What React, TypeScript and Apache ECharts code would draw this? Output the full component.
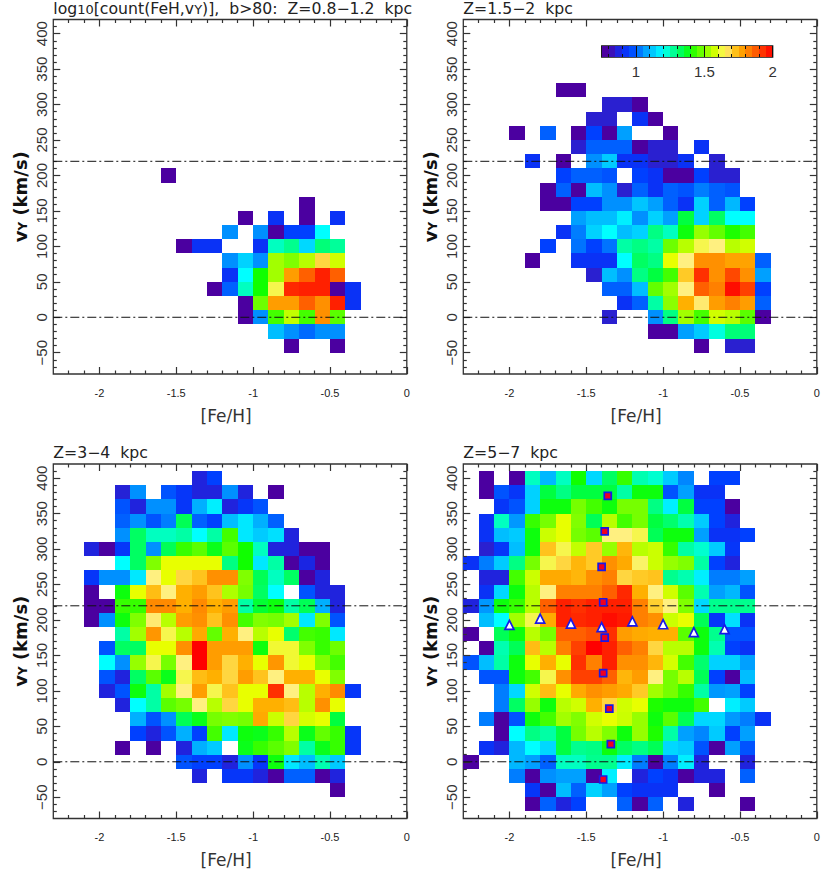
import React, { useEffect, useRef } from "react";
import * as echarts from "echarts";

type Row = [number, number, number[]];

// each row: [vY bin centre (km/s), index of first [Fe/H] bin, log10(count) per bin, 0 = empty]
const panel1Rows: Row[] = [
  [200, 7, [0.78]],
  [160, 16, [0.78]],
  [140, 12, [0.78, 0, 0.92, 0, 0.78, 0, 0.92]],
  [120, 11, [1.05, 0, 1.05, 0.78, 0.95, 0.95, 1.2]],
  [100, 8, [0.78, 0.92, 0.92, 0, 0, 0.92, 1.24, 1.28, 1.15, 1.3, 1.27]],
  [80, 11, [1.05, 1.14, 1.05, 1.53, 1.5, 1.55, 1.69, 1.575]],
  [60, 11, [0.92, 1.2, 1.4, 1.53, 1.78, 1.87, 1.95, 1.87]],
  [40, 10, [0.78, 1.0, 1.24, 1.4, 1.63, 1.94, 1.95, 1.95, 0.78, 0.92]],
  [20, 12, [0.78, 1.48, 1.78, 1.78, 1.87, 1.8, 1.95, 0.92]],
  [0, 12, [0.78, 1.05, 1.44, 1.56, 1.44, 1.8, 1.46]],
  [-20, 14, [1.11, 1.05, 1.01, 1.05, 1.05]],
  [-40, 15, [0.78, 0, 0, 0.78]],
];

const panel2Rows: Row[] = [
  [320, 6, [0.78, 0.78]],
  [300, 9, [0.85, 0.85, 0.78]],
  [280, 8, [0.85, 0.85, 0, 0.92, 0.78]],
  [260, 3, [0.78, 0, 1.0, 0, 0.78, 0.95, 0.78, 1.07, 0, 0, 0.78]],
  [240, 7, [0.85, 1.0, 1.0, 1.0, 0.78, 0.85, 0.85, 0, 0.92]],
  [220, 4, [0.92, 0, 0.78, 0, 1.05, 1.13, 0.92, 0.92, 0.85, 0.85, 0.92, 0, 0.85]],
  [200, 6, [0.95, 1.0, 1.0, 0.98, 0, 0.95, 0.92, 0.78, 0.78, 0.95, 0.85, 0.85]],
  [180, 5, [0.78, 1.0, 0.78, 1.11, 1.05, 0.85, 1.0, 0.92, 1.0, 0.98, 1.03, 1.0, 0.98]],
  [160, 5, [0.78, 0.78, 0.95, 0.95, 1.05, 1.05, 1.12, 1.07, 1.0, 0.92, 1.14, 1.0, 1.1, 0.95]],
  [140, 7, [1.07, 1.11, 1.11, 1.18, 1.05, 1.14, 1.07, 1.35, 1.14, 1.32, 1.2, 1.2]],
  [120, 6, [0.92, 1.03, 1.14, 1.2, 1.11, 1.14, 1.29, 1.24, 1.39, 1.52, 1.47, 1.41, 1.44]],
  [100, 5, [0.95, 0, 1.02, 0.95, 1.02, 1.26, 1.29, 1.26, 1.48, 1.55, 1.63, 1.65, 1.55, 1.575]],
  [80, 4, [0.78, 0, 0, 0.92, 0.92, 0.92, 1.2, 1.32, 1.29, 1.6, 1.65, 1.8, 1.8, 1.77, 1.77, 1.0]],
  [60, 8, [0.85, 1.11, 1.05, 1.29, 1.35, 1.44, 1.71, 1.93, 1.8, 1.9, 1.8, 1.07]],
  [40, 9, [1.0, 1.0, 1.11, 1.47, 1.53, 1.65, 1.87, 1.825, 1.98, 1.91, 0.95]],
  [20, 10, [0.92, 1.0, 1.26, 1.51, 1.75, 1.66, 1.78, 1.825, 1.78, 1.0]],
  [0, 9, [0.85, 0, 0, 1.05, 1.29, 1.53, 1.44, 1.575, 1.55, 1.46, 0.78]],
  [-20, 12, [0.78, 0.78, 1.07, 1.13, 1.22, 1.3, 1.3]],
  [-40, 15, [0.78, 0, 0.85, 0.85]],
];

const panel3Rows: Row[] = [
  [400, 9, [0.87, 0.95]],
  [380, 4, [0.86, 1.05, 0, 0.98, 0.93, 0.87, 0.87, 1.05, 0.87, 0, 0.78]],
  [360, 4, [0.98, 0.87, 1.05, 1.05, 0.93, 1.09, 1.18, 0.87, 0.93, 0.98]],
  [340, 4, [1.0, 1.05, 0.98, 1.03, 1.33, 1.0, 0.95, 1.11, 1.17, 1.09, 1.0]],
  [320, 4, [1.05, 1.32, 1.24, 1.24, 1.26, 1.2, 1.26, 1.44, 1.17, 1.13, 1.16, 0.87]],
  [300, 2, [0.87, 0.78, 0.93, 1.32, 1.05, 1.33, 1.43, 1.46, 1.38, 1.46, 1.4, 1.24, 0.87, 0.87, 0.78, 0.78]],
  [280, 4, [1.2, 1.32, 1.5, 1.6, 1.6, 1.6, 1.6, 1.29, 1.4, 1.17, 1.26, 0.78, 0.88, 0.78]],
  [260, 2, [0.93, 1.05, 1.05, 1.17, 1.65, 1.6, 1.69, 1.72, 1.8, 1.8, 1.5, 1.33, 1.24, 1.32, 0.78, 0.87]],
  [240, 2, [0.78, 0, 1.39, 1.6, 1.73, 1.65, 1.75, 1.78, 1.72, 1.54, 1.49, 1.32, 1.2, 0, 0.98, 0.87, 0.87]],
  [220, 2, [0.78, 0.78, 1.43, 1.43, 1.81, 1.81, 1.75, 1.81, 1.75, 1.78, 1.26, 1.36, 1.39, 1.26, 1.33, 1.09, 0.87]],
  [200, 2, [0.78, 1.05, 1.39, 1.5, 1.66, 1.55, 1.78, 1.8, 1.72, 1.8, 1.44, 1.5, 1.49, 1.53, 1.17, 1.5, 0.98]],
  [180, 4, [1.26, 1.53, 1.79, 1.63, 1.55, 1.76, 1.47, 1.75, 1.65, 1.55, 1.6, 1.31, 1.44, 1.43, 1.17]],
  [160, 3, [0.98, 1.32, 1.32, 1.6, 1.6, 1.8, 2.0, 1.78, 1.78, 1.78, 1.39, 1.62, 1.62, 1.5, 1.43, 1.48]],
  [140, 3, [1.2, 1.05, 1.52, 1.63, 1.49, 1.65, 2.0, 1.78, 1.69, 1.75, 1.6, 1.79, 1.62, 1.6, 1.5, 1.44]],
  [120, 3, [0.98, 0.87, 1.32, 1.46, 1.38, 1.63, 1.73, 1.75, 1.69, 1.78, 1.72, 1.65, 1.75, 1.75, 1.6, 1.5]],
  [100, 3, [0.87, 0.98, 1.39, 1.26, 1.53, 1.65, 1.78, 1.63, 1.72, 1.6, 1.6, 1.93, 1.65, 1.55, 1.75, 1.81, 0.93]],
  [80, 4, [0.87, 1.2, 1.26, 1.46, 1.49, 1.65, 1.55, 1.69, 1.6, 1.75, 1.75, 1.73, 1.55, 1.8, 1.6]],
  [60, 5, [1.09, 0.98, 1.05, 1.33, 1.38, 1.49, 1.5, 1.49, 1.76, 1.57, 1.69, 1.58, 1.6, 1.35]],
  [40, 5, [0.95, 0.87, 0.98, 1.09, 0.95, 1.44, 1.17, 1.39, 1.38, 1.43, 1.55, 1.38, 1.47, 1.43, 0.93]],
  [20, 4, [0.78, 0, 0.78, 0, 0.87, 1.09, 1.13, 0, 1.38, 1.43, 1.46, 1.5, 1.26, 1.38, 1.43, 0.93]],
  [0, 8, [0.98, 0.95, 0.95, 0.87, 1.05, 0.93, 1.39, 1.17, 1.11, 1.25, 1.13]],
  [-20, 9, [0.87, 0, 0.93, 0.93, 0.87, 0.78, 1.0, 1.0, 0.78, 0.87]],
  [-40, 18, [0.78]],
];

const panel4Rows: Row[] = [
  [400, 1, [0.78, 0, 0.78, 1.24, 1.1, 1.24, 1.4, 1.15, 1.32, 1.43, 1.25, 1.23, 1.13, 1.04, 0, 0.95, 0.95]],
  [380, 1, [0.78, 0.98, 0.93, 1.14, 1.35, 1.29, 1.35, 1.35, 1.35, 1.26, 1.39, 1.39, 0.98, 1.07, 0.92, 0.92]],
  [360, 2, [0.93, 0.98, 1.14, 1.39, 1.39, 1.49, 1.44, 1.39, 1.49, 1.49, 1.29, 1.18, 1.35, 0.95, 0.95, 0.78]],
  [340, 1, [0.92, 1.24, 1.06, 1.43, 1.49, 1.6, 1.5, 1.33, 1.55, 1.44, 1.49, 1.35, 1.31, 1.25, 1.13, 0.95, 0.87]],
  [320, 1, [0.92, 1.11, 1.13, 1.39, 1.57, 1.6, 1.49, 1.46, 1.65, 1.65, 1.63, 1.33, 1.39, 1.39, 1.07, 0.92, 0.92, 0.95]],
  [300, 1, [0.85, 0.93, 1.11, 1.39, 1.72, 1.63, 1.56, 1.71, 1.52, 1.74, 1.55, 1.57, 1.43, 1.26, 1.23, 1.13, 0.93]],
  [280, 0, [0.92, 1.03, 1.13, 1.29, 1.49, 1.63, 1.69, 1.74, 1.71, 1.8, 1.76, 1.64, 1.57, 1.52, 1.5, 1.26, 0.95, 0.87]],
  [260, 1, [0.87, 0.87, 1.44, 1.57, 1.76, 1.76, 1.74, 1.8, 1.825, 1.69, 1.71, 1.72, 1.28, 1.25, 1.18, 1.03, 1.03, 1.07]],
  [240, 1, [0.92, 1.15, 1.39, 1.55, 1.65, 1.825, 1.825, 1.825, 1.87, 1.94, 1.75, 1.65, 1.575, 1.46, 1.25, 1.07, 1.1, 0.98]],
  [220, 0, [0.87, 1.06, 1.39, 1.43, 1.55, 1.87, 1.95, 1.93, 1.95, 1.95, 1.95, 1.825, 1.7, 1.65, 1.5, 1.15, 1.28, 1.28, 1.28]],
  [200, 1, [1.11, 1.2, 1.53, 1.63, 1.76, 1.95, 1.94, 1.95, 1.98, 1.96, 1.825, 1.8, 1.57, 1.6, 1.33, 0.93, 1.16, 0.92]],
  [180, 0, [0.78, 0, 1.33, 1.39, 1.55, 1.49, 1.87, 1.87, 1.89, 1.93, 1.78, 1.76, 1.75, 1.75, 1.46, 1.39, 1.28, 0.98, 0.98]],
  [160, 1, [0.78, 1.25, 1.33, 1.73, 1.55, 1.825, 1.91, 2.0, 1.95, 1.87, 1.825, 1.69, 1.55, 1.55, 1.39, 1.25, 0.95, 0.92]],
  [140, 0, [0.98, 1.11, 1.26, 1.39, 1.6, 1.75, 1.6, 1.93, 1.825, 1.95, 1.8, 1.8, 1.74, 1.58, 1.44, 1.31, 1.14, 1.14, 1.07]],
  [120, 1, [0.98, 0.98, 1.39, 1.44, 1.63, 1.8, 1.91, 1.91, 1.87, 1.74, 1.78, 1.65, 1.49, 1.55, 1.33, 0.95, 0.78, 1.11]],
  [100, 2, [1.03, 1.15, 1.575, 1.73, 1.6, 1.76, 1.8, 1.78, 1.76, 1.71, 1.53, 1.49, 1.43, 1.26, 1.06, 1.07, 0.95]],
  [80, 2, [1.03, 1.32, 1.52, 1.39, 1.55, 1.575, 1.75, 1.69, 1.575, 1.6, 1.41, 1.39, 1.39, 1.44, 0, 1.18, 1.13]],
  [60, 1, [1.03, 0.78, 0.98, 1.39, 1.44, 1.53, 1.5, 1.575, 1.6, 1.57, 1.52, 1.39, 1.46, 1.33, 1.15, 1.15, 1.06, 1.03, 0.92]],
  [40, 2, [0.78, 1.2, 1.29, 1.26, 1.35, 1.49, 1.55, 1.5, 1.39, 1.52, 1.41, 1.26, 1.07, 1.04, 1.13, 0.95, 1.07]],
  [20, 1, [0.92, 0.87, 1.1, 1.2, 1.15, 1.35, 1.28, 1.29, 1.39, 1.32, 1.29, 1.33, 1.15, 1.13, 0.98, 0.78, 1.07, 0.98]],
  [0, 0, [0.78, 0, 0, 1.1, 1.07, 1.0, 1.24, 1.24, 1.28, 1.28, 1.18, 1.03, 0.78, 1.03, 1.18, 0.87, 0, 0, 0.87]],
  [-20, 3, [1.03, 0.78, 1.05, 1.07, 1.07, 0.78, 1.18, 0, 0.87, 0.95, 0.92, 0.78, 0.87, 0.87, 0, 1.0]],
  [-40, 4, [0.93, 0.78, 1.11, 1.0, 1.14, 1.07, 0.95, 0.92, 0.92, 0.92, 0, 0, 0.78]],
  [-60, 4, [0.78, 1.0, 0.87, 0.95, 0, 0, 1.0, 0.78, 1.0, 0, 0.87, 0, 0, 0, 0.78]],
];

const squareMarkers = [
  [-1.36, 375], [-1.38, 325], [-1.4, 275], [-1.39, 225], [-1.38, 175],
  [-1.39, 125], [-1.35, 75], [-1.34, 25], [-1.39, -25],
];
const triangleMarkers = [
  [-2.0, 193], [-1.8, 202], [-1.6, 195], [-1.4, 190], [-1.2, 198],
  [-1.0, 194], [-0.8, 183], [-0.6, 187],
];

const referenceLines = [220, 0];

const colorRamp = [
  "#4b00a0", "#4b00a0", "#2a20d0", "#1028f0", "#0040ff", "#0060ff", "#0090ff", "#00b8ff", "#00d8ff",
  "#00ffff", "#00ffb0", "#00ff78", "#00ff40", "#10ff00", "#50ff00", "#80ff00", "#b8ff00", "#e8ff00",
  "#fff080", "#ffd030", "#ffb000", "#ff9000", "#ff7000", "#ff4800", "#ff2000", "#ff0000",
];
const colorbarBands = [
  0.775, 0.825, 0.875, 0.925, 0.975, 1.025, 1.075, 1.125, 1.175, 1.225, 1.275, 1.325, 1.375,
  1.425, 1.475, 1.525, 1.575, 1.625, 1.675, 1.725, 1.775, 1.825, 1.875, 1.925, 1.975,
];

const xLabels = [-2, -1.5, -1, -0.5, 0];
const xMinor = [-2.2, -2.1, -1.9, -1.8, -1.7, -1.6, -1.4, -1.3, -1.2, -1.1, -0.9, -0.8, -0.7, -0.6, -0.4, -0.3, -0.2, -0.1];
const yLabels = [-50, 0, 50, 100, 150, 200, 250, 300, 350, 400];
const yMinor = [
  -70, -60, -40, -30, -20, -10, 10, 20, 30, 40, 60, 70, 80, 90, 110, 120, 130, 140, 160, 170, 180, 190,
  210, 220, 230, 240, 260, 270, 280, 290, 310, 320, 330, 340, 360, 370, 380, 390, 410,
];
const cbLabels = [1, 1.5, 2];
const cbMinor = [0.8, 0.9, 1.1, 1.2, 1.3, 1.4, 1.6, 1.7, 1.8, 1.9];

const titles = [
  "log{sub|10}[count(FeH,v{sub|Y})],  b>80:  Z=0.8\u22121.2  kpc",
  "Z=1.5\u22122  kpc",
  "Z=3\u22124  kpc",
  "Z=5\u22127  kpc",
];
const panelRows = [panel1Rows, panel2Rows, panel3Rows, panel4Rows];

const INK = "#333333";
const SANS = "'Liberation Sans', Arial, sans-serif";
const TITLE_FONT = "'DejaVu Sans', sans-serif";
const PANEL_W = 353.5;
const PANEL_H = 354.5;
const frames = [
  { left: 53.3, top: 19.5 },
  { left: 463.3, top: 19.5 },
  { left: 53.3, top: 464 },
  { left: 463.3, top: 464 },
];

function cellData(rows: Row[]) {
  const out: number[][] = [];
  rows.forEach(([vy, first, values]) => {
    values.forEach((v, k) => {
      if (v > 0) out.push([-2.3 + 0.1 * (first + k), vy, v]);
    });
  });
  return out;
}

function renderCell(_: any, api: any) {
  const x0 = api.value(0);
  const vy = api.value(1);
  const a = api.coord([x0, vy + 10]);
  const b = api.coord([x0 + 0.1, vy - 10]);
  const l = Math.round(a[0]);
  const t = Math.round(a[1]);
  return {
    type: "rect",
    shape: { x: l, y: t, width: Math.round(b[0]) - l, height: Math.round(b[1]) - t },
    style: { fill: api.visual("color") },
  };
}

function renderBand(_: any, api: any) {
  const c = api.value(0);
  const a = api.coord([c - 0.025, 1]);
  const b = api.coord([c + 0.025, 0]);
  const l = Math.round(a[0]);
  return {
    type: "rect",
    shape: { x: l, y: a[1], width: Math.round(b[0]) - l, height: b[1] - a[1] },
    style: { fill: api.visual("color") },
  };
}

function tickLine(color = INK, width = 1.2) {
  return { color, width };
}

function makeOption() {
  const xAxis: any[] = [];
  const yAxis: any[] = [];
  const grid: any[] = [];
  const series: any[] = [];
  const title: any[] = [];
  const seriesWithColor: number[] = [];

  frames.forEach((f, p) => {
    grid.push({
      left: f.left, top: f.top, width: PANEL_W, height: PANEL_H, show: true,
      borderColor: INK, borderWidth: 1.3, backgroundColor: "transparent",
    });
    const xBase = { type: "value", gridIndex: p, min: -2.3, max: 0, z: 3, splitLine: { show: false },
      axisLine: { show: false, onZero: false } };
    const yBase = { type: "value", gridIndex: p, min: -80, max: 420, z: 3, splitLine: { show: false },
      axisLine: { show: false, onZero: false } };
    const baseX = xAxis.length;
    const baseY = yAxis.length;
    xAxis.push({
      ...xBase, position: "bottom", name: "[Fe/H]", nameLocation: "middle", nameGap: 33,
      nameTextStyle: { fontFamily: TITLE_FONT, fontSize: 17, color: "#333", padding: [0, 8, 0, 0] },
      axisTick: { show: true, inside: true, length: 7, customValues: xLabels, lineStyle: tickLine() },
      axisLabel: { show: true, customValues: xLabels, margin: 13, fontFamily: SANS, fontSize: 11, color: "#222",
        formatter: (v: number) => String(v) },
    });
    xAxis.push({ ...xBase, position: "bottom", axisLabel: { show: false },
      axisTick: { show: true, inside: true, length: 3.5, customValues: xMinor, lineStyle: tickLine() } });
    xAxis.push({ ...xBase, position: "top", axisLabel: { show: false },
      axisTick: { show: true, inside: true, length: 7, customValues: xLabels, lineStyle: tickLine() } });
    xAxis.push({ ...xBase, position: "top", axisLabel: { show: false },
      axisTick: { show: true, inside: true, length: 3.5, customValues: xMinor, lineStyle: tickLine() } });
    yAxis.push({
      ...yBase, position: "left", name: "v{sub|Y} (km/s)", nameLocation: "middle", nameGap: 24, nameRotate: 90,
      nameTextStyle: { fontFamily: TITLE_FONT, fontSize: 18, fontWeight: "bold", color: "#111",
        rich: { sub: { fontSize: 12, fontWeight: "bold", fontFamily: TITLE_FONT, color: "#111", verticalAlign: "bottom", padding: [6, 0, 0, 0] } } },
      axisTick: { show: true, inside: true, length: 7, customValues: yLabels, lineStyle: tickLine() },
      axisLabel: { show: true, customValues: yLabels, rotate: 90, margin: 4, fontFamily: SANS, fontSize: 15, color: "#333",
        formatter: (v: number) => (v < 0 ? "\u2212" + Math.abs(v) : String(v)) },
    });
    yAxis.push({ ...yBase, position: "left", axisLabel: { show: false },
      axisTick: { show: true, inside: true, length: 3.5, customValues: yMinor, lineStyle: tickLine() } });
    yAxis.push({ ...yBase, position: "right", axisLabel: { show: false },
      axisTick: { show: true, inside: true, length: 7, customValues: yLabels, lineStyle: tickLine() } });
    yAxis.push({ ...yBase, position: "right", axisLabel: { show: false },
      axisTick: { show: true, inside: true, length: 3.5, customValues: yMinor, lineStyle: tickLine() } });

    seriesWithColor.push(series.length);
    series.push({
      type: "custom", xAxisIndex: baseX, yAxisIndex: baseY, data: cellData(panelRows[p]),
      encode: { x: 0, y: 1 }, renderItem: renderCell, z: 2, silent: true,
    });
    referenceLines.forEach((v) => {
      series.push({
        type: "line", xAxisIndex: baseX, yAxisIndex: baseY, data: [[-2.3, v], [0, v]], symbol: "none", silent: true, z: 4,
        lineStyle: { color: "#111", width: 1, type: [9, 3, 2, 3] },
      });
    });
    if (p === 3) {
      series.push({
        type: "scatter", xAxisIndex: baseX, yAxisIndex: baseY, data: squareMarkers, symbol: "rect", symbolSize: 7,
        itemStyle: { color: "#f00020", borderColor: "#1818e8", borderWidth: 1.7, opacity: 1 }, z: 5, silent: true,
      });
      series.push({
        type: "scatter", xAxisIndex: baseX, yAxisIndex: baseY, data: triangleMarkers, symbol: "triangle", symbolSize: 9,
        itemStyle: { color: "#ffffff", borderColor: "#1818e8", borderWidth: 1.7, opacity: 1 }, z: 5, silent: true,
      });
    }
    title.push({
      text: titles[p], left: f.left, top: f.top - 19.5, padding: 0,
      textStyle: { fontFamily: TITLE_FONT, fontSize: 15.7, lineHeight: 16, fontWeight: "normal", color: "#222",
        rich: { sub: { fontSize: 13, lineHeight: 16, fontFamily: TITLE_FONT, color: "#222", verticalAlign: "bottom", padding: [4, 0, 0, 0] } } },
    });
  });

  // colour bar
  const cbGrid = grid.length;
  grid.push({ left: 601.7, top: 46, width: 171, height: 11, show: true, borderColor: "#111", borderWidth: 1.3, backgroundColor: "transparent" });
  const cbX = xAxis.length;
  const cbY = yAxis.length;
  const cbBase = { type: "value", gridIndex: cbGrid, min: 0.75, max: 2, z: 3, splitLine: { show: false }, axisLine: { show: false, onZero: false } };
  xAxis.push({ ...cbBase, position: "bottom",
    axisTick: { show: true, inside: true, length: 11, customValues: cbLabels, lineStyle: { color: "#111", width: 1 } },
    axisLabel: { show: true, customValues: cbLabels, margin: 7, fontFamily: SANS, fontSize: 15, color: "#333",
      formatter: (v: number) => String(v) } });
  xAxis.push({ ...cbBase, position: "bottom", axisLabel: { show: false },
    axisTick: { show: true, inside: true, length: 3, customValues: cbMinor, lineStyle: { color: "#111", width: 1 } } });
  xAxis.push({ ...cbBase, position: "top", axisLabel: { show: false },
    axisTick: { show: true, inside: true, length: 3, customValues: cbMinor, lineStyle: { color: "#111", width: 1 } } });
  yAxis.push({ type: "value", gridIndex: cbGrid, min: 0, max: 1, show: false, splitLine: { show: false } });
  seriesWithColor.push(series.length);
  series.push({
    type: "custom", xAxisIndex: cbX, yAxisIndex: cbY, data: colorbarBands.map((b) => [b, 0.5, b]),
    encode: { x: 0, y: 1 }, renderItem: renderBand, z: 2, silent: true,
  });

  return {
    animation: false,
    backgroundColor: "#ffffff",
    title, grid, xAxis, yAxis, series,
    visualMap: {
      type: "continuous", show: false, min: 0.75, max: 2, dimension: 2,
      seriesIndex: seriesWithColor, inRange: { color: colorRamp },
    },
  };
}

export default function App() {
  const ref = useRef<HTMLDivElement>(null);
  useEffect(() => {
    document.body.style.margin = "0";
    const chart = echarts.init(ref.current!, undefined, { renderer: "svg" });
    chart.setOption(makeOption() as any);
    return () => chart.dispose();
  }, []);
  return <div ref={ref} style={{ position: "absolute", left: 0, top: 0, width: 830, height: 879 }} />;
}
